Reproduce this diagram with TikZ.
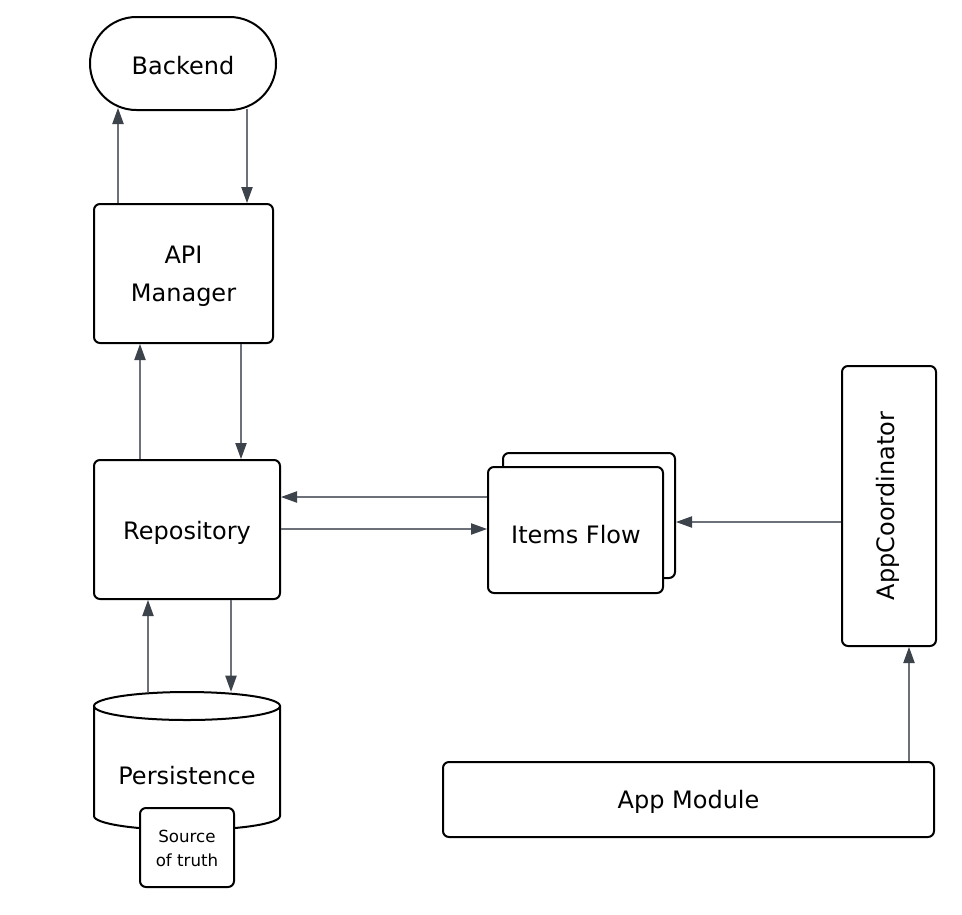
\documentclass[tikz,border=0pt]{standalone}
\usepackage{fontspec}
\setmainfont{DejaVu Sans}
\usetikzlibrary{arrows.meta,calc}
\definecolor{linegray}{HTML}{6B7079}
\definecolor{tipgray}{HTML}{3D434B}
\begin{document}
\begin{tikzpicture}[x=0.75pt,y=-0.75pt,
  box/.style={draw=black, line width=1.5pt, fill=white, rounded corners=4.5pt,
    inner sep=0pt},
  lbl/.style={inner sep=0pt, align=center, font=\fontsize{18pt}{28.5pt}\selectfont},
  arr/.style={draw=linegray, line width=0.8pt,
    -{Triangle[length=12pt,width=8.5pt,color=tipgray]}},
  small/.style={inner sep=0pt, align=center, font=\fontsize{12.5pt}{18pt}\selectfont}]
\useasboundingbox (0,0) rectangle (962,914);
% nodes
\node[box, rounded corners=34.8pt, minimum width=139.5pt, minimum height=69.75pt] (backend) at (183,63.5) {};
\node[lbl, anchor=base] (backendtext) at (183,74) {Backend};
\node[box, minimum width=134.25pt, minimum height=104.25pt] (api) at (183.5,273.5) {};
\node[lbl] (apitext) at (183.5,276.5) {API\\Manager};
\node[box, minimum width=139.5pt, minimum height=104.25pt] (repo) at (187,529.5) {};
\node[lbl, anchor=base] (repotext) at (187,539) {Repository};
\node[box, minimum width=129pt, minimum height=93.75pt] (itemsback) at (589,515.5) {};
\node[box, minimum width=131.25pt, minimum height=94.5pt] (items) at (575.5,530) {};
\node[lbl, anchor=base] (itemstext) at (576,543) {Items Flow};
\node[box, minimum width=70.5pt, minimum height=210pt] (coord) at (889,506) {};
\node[lbl, rotate=90] (coordtext) at (888,506) {AppCoordinator};
\node[box, minimum width=368.25pt, minimum height=56.25pt] (module) at (688.5,799.5) {};
\node[lbl, anchor=base] (moduletext) at (688.5,808) {App Module};
% cylinder
\fill[white] (94,706) -- (94,816) arc[start angle=180, end angle=0, x radius=93, y radius=14] -- (280,706) -- cycle;
\draw[line width=1.5pt, fill=white] (187,706) ellipse [x radius=93, y radius=14];
\draw[line width=1.5pt] (94,706) -- (94,816) arc[start angle=180, end angle=0, x radius=93, y radius=14] -- (280,706);
\node[inner sep=0pt, minimum width=139.5pt, minimum height=103.5pt] (pers) at (187,761) {};
\node[lbl, anchor=base] (perstext) at (187,784) {Persistence};
\node[box, minimum width=70.5pt, minimum height=59.25pt] (source) at (187,847.5) {};
\node[small] (sourcetext) at (187,848) {Source\\of truth};
% connectors
\draw[arr] (api.north -| 118,0) -- ($(backend.south -| 118,0)+(0,-3)$);
\draw[arr] ($(backend.south -| 247,0)+(0,-2)$) -- (api.north -| 247,0);
\draw[arr] (repo.north -| 140,0) -- (api.south -| 140,0);
\draw[arr] (api.south -| 241,0) -- (repo.north -| 241,0);
\draw[arr] (pers.north -| 148,0) -- (repo.south -| 148,0);
\draw[arr] (repo.south -| 231,0) -- (pers.north -| 231,0);
\draw[arr] (items.west |- 0,497) -- (repo.east |- 0,497);
\draw[arr] (repo.east |- 0,529) -- (items.west |- 0,529);
\draw[arr] (coord.west |- 0,522) -- (itemsback.east |- 0,522);
\draw[arr] (module.north -| 909,0) -- (coord.south -| 909,0);
\end{tikzpicture}
\end{document}
